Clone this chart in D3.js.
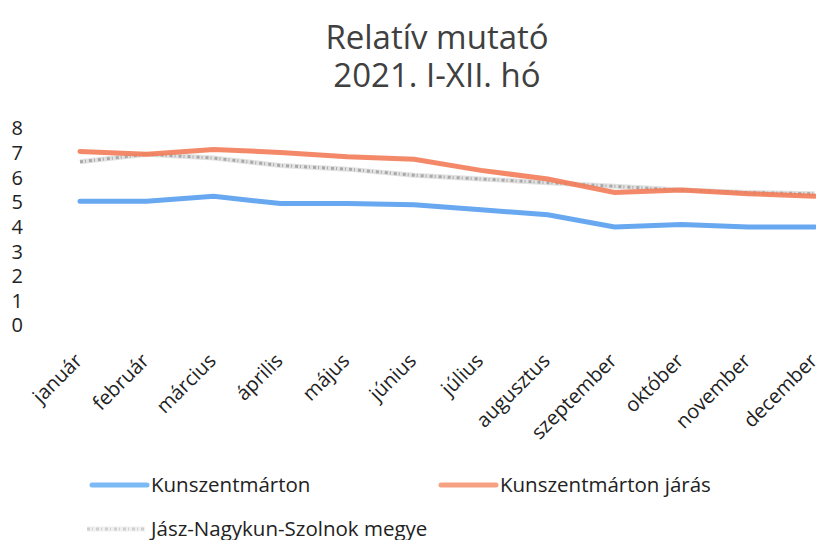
<!DOCTYPE html>
<html>
<head>
<meta charset="utf-8">
<script src="https://cdn.jsdelivr.net/npm/d3@7"></script>
<style>
  body { margin: 0; background: #fff; }
  svg { display: block; font-family: "Open Sans", sans-serif; }
</style>
</head>
<body>
<div id="chart"></div>
<script>
var svgWidth = 816;
var svgHeight = 540;

// data
var months = ["január", "február", "március", "április", "május", "június",
    "július", "augusztus", "szeptember", "október", "november", "december"];
var kunszentmarton = [5.05, 5.05, 5.25, 4.95, 4.95, 4.9, 4.7, 4.5, 4.0, 4.1, 4.0, 4.0];
var kunszentmartonJaras = [7.07, 6.95, 7.15, 7.03, 6.85, 6.75, 6.3, 5.95, 5.4, 5.5, 5.35, 5.25];
var megye = [6.65, 6.95, 6.8, 6.5, 6.35, 6.1, 5.95, 5.8, 5.65, 5.5, 5.4, 5.35];
var yTicks = [0, 1, 2, 3, 4, 5, 6, 7, 8];

var svg = d3.select("#chart")
    .append("svg")
    .attr("width", svgWidth)
    .attr("height", svgHeight);

// title
svg.append("text")
    .attr("x", 437).attr("y", 49)
    .attr("text-anchor", "middle")
    .attr("font-size", 33)
    .attr("fill", "#404040")
    .text("Relatív mutató");
svg.append("text")
    .attr("x", 437).attr("y", 87)
    .attr("text-anchor", "middle")
    .attr("font-size", 33)
    .attr("fill", "#404040")
    .text("2021. I-XII. hó");

var xScale = d3.scalePoint()
    .domain(months)
    .range([80, 815]);

var yScale = d3.scaleLinear()
    .domain([0, 8])
    .range([325.5, 128.5]);

// y axis labels only
var leftAxis = d3.axisLeft(yScale).tickValues(yTicks).tickSize(0).tickPadding(0);
var yAxis = svg.append("g")
    .attr("transform", "translate(23,0)")
    .call(leftAxis);
yAxis.select(".domain").remove();
yAxis.selectAll("text")
    .attr("font-size", 20)
    .attr("font-family", "Open Sans, sans-serif")
    .attr("fill", "#222");

// x axis labels rotated
var bottomAxis = d3.axisBottom(xScale).tickSize(0).tickPadding(0);
var xAxis = svg.append("g")
    .attr("transform", "translate(0,340)")
    .call(bottomAxis);
xAxis.select(".domain").remove();
xAxis.selectAll("text")
    .attr("font-size", 20)
    .attr("font-family", "Open Sans, sans-serif")
    .attr("fill", "#222")
    .attr("text-anchor", "end")
    .attr("dy", "0")
    .attr("transform", "translate(3,22) rotate(-45)");

var line = d3.line()
    .x((d, i) => xScale(months[i]))
    .y(d => yScale(d))
    .curve(d3.curveLinear);

// grey textured series
svg.append("path")
    .datum(megye)
    .attr("d", line)
    .attr("fill", "none")
    .attr("stroke", "#e2e2e2")
    .attr("stroke-width", 5);
svg.append("path")
    .datum(megye)
    .attr("d", line)
    .attr("fill", "none")
    .attr("stroke", "#a9a9a9")
    .attr("stroke-width", 3)
    .attr("stroke-dasharray", "3,2,1,3");

svg.append("path")
    .datum(kunszentmartonJaras)
    .attr("d", line)
    .attr("fill", "none")
    .attr("stroke", "#f27c58")
    .attr("stroke-width", 5)
    .attr("stroke-linecap", "round")
    .attr("opacity", 0.9);

svg.append("path")
    .datum(kunszentmarton)
    .attr("d", line)
    .attr("fill", "none")
    .attr("stroke", "#68a8f0")
    .attr("stroke-width", 5)
    .attr("stroke-linecap", "round");

// legend
var legend = [
    {name: "Kunszentmárton", color: "#7cbaf6", x: 92, y: 485},
    {name: "Kunszentmárton járás", color: "#f7a183", x: 441, y: 485},
    {name: "Jász-Nagykun-Szolnok megye", color: null, x: 87, y: 529}
];
legend.forEach(function(l) {
    if (l.color) {
        svg.append("line")
            .attr("x1", l.x).attr("x2", l.x + 55)
            .attr("y1", l.y).attr("y2", l.y)
            .attr("stroke", l.color)
            .attr("stroke-width", 5)
            .attr("stroke-linecap", "round");
    } else {
        svg.append("line")
            .attr("x1", l.x).attr("x2", l.x + 58)
            .attr("y1", l.y).attr("y2", l.y)
            .attr("stroke", "#f0f0f0")
            .attr("stroke-width", 5);
        svg.append("line")
            .attr("x1", l.x).attr("x2", l.x + 58)
            .attr("y1", l.y).attr("y2", l.y)
            .attr("stroke", "#cfcfcf")
            .attr("stroke-width", 3)
            .attr("stroke-dasharray", "3,2,1,3");
    }
    svg.append("text")
        .attr("x", l.x + (l.color ? 59 : 64))
        .attr("y", l.y + 7)
        .attr("font-size", 20.5)
        .attr("fill", "#222")
        .text(l.name);
});
</script>
</body>
</html>
